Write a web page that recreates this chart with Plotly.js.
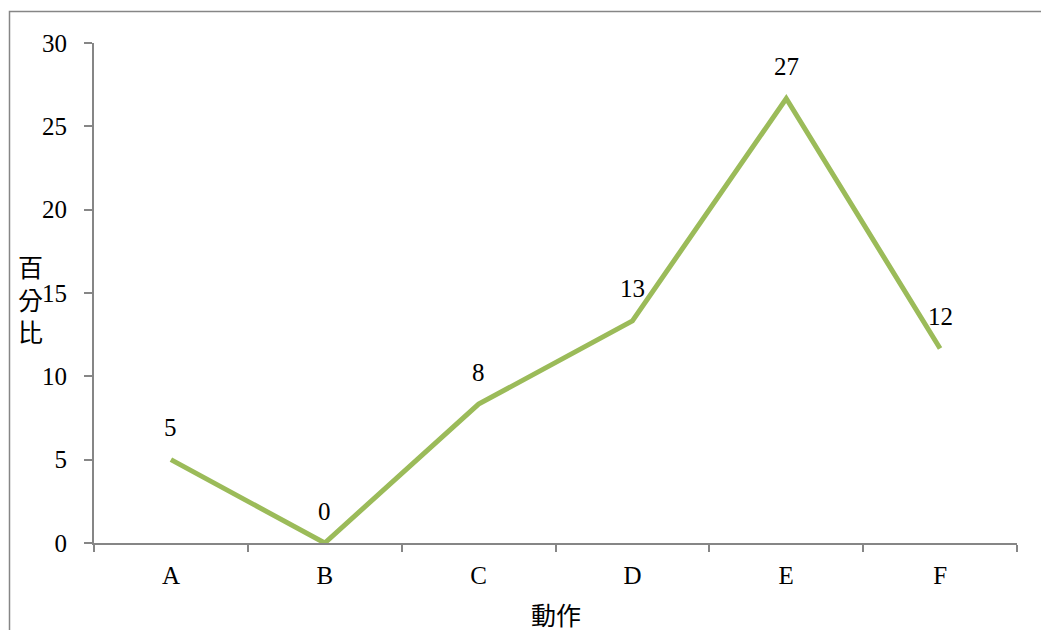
<!DOCTYPE html>
<html>
<head>
<meta charset="utf-8">
<script src="https://cdn.plot.ly/plotly-3.0.1.min.js"></script>
<style>
  html, body { margin: 0; padding: 0; background: #ffffff; }
  #chart { width: 1041px; height: 630px; }
</style>
</head>
<body>
<div id="chart"></div>
<script>
// 動作別の百分比
const categories = ['A', 'B', 'C', 'D', 'E', 'F'];
const percentages = [5, 0, 8.33, 13.33, 26.67, 11.67];
const yTickValues = [0, 5, 10, 15, 20, 25, 30];

const lineColor = '#9BBB59';
const axisColor = '#868686';
const serifFont = 'Liberation Serif, Times New Roman, serif';
const cjkFont = 'Noto Sans CJK TC, Noto Sans CJK SC, sans-serif';

const W = 1041, H = 630;
const margin = { l: 94, r: 24, t: 43, b: 87 };
const plotW = W - margin.l - margin.r;
const plotH = H - margin.t - margin.b;
// pixel -> paper coordinate helpers
const px = x => (x - margin.l) / plotW;
const py = y => (H - margin.b - y) / plotH;

const trace = {
  type: 'scatter',
  mode: 'lines',
  x: categories,
  y: percentages,
  line: { color: lineColor, width: 5 },
  hoverinfo: 'skip',
  cliponaxis: false
};

// value labels above each point, rounded to whole percent
const valueLabels = categories.map((c, i) => ({
  x: c,
  y: percentages[i],
  xref: 'x',
  yref: 'y',
  text: String(Math.round(percentages[i])),
  showarrow: false,
  yanchor: 'middle',
  xanchor: 'center',
  yshift: 32,
  font: { family: serifFont, size: 25, color: '#000000' }
}));

const layout = {
  width: W,
  height: H,
  margin: margin,
  paper_bgcolor: '#ffffff',
  plot_bgcolor: '#ffffff',
  showlegend: false,
  xaxis: {
    type: 'category',
    range: [-0.5, categories.length - 0.5],
    showgrid: false,
    zeroline: false,
    showline: true,
    linecolor: axisColor,
    linewidth: 2,
    ticks: 'outside',
    tickson: 'boundaries',
    ticklen: 7,
    tickwidth: 2,
    tickcolor: axisColor,
    ticklabelstandoff: 9,
    tickfont: { family: serifFont, size: 25, color: '#000000' },
    fixedrange: true
  },
  yaxis: {
    range: [0, 30],
    tickvals: yTickValues,
    ticktext: yTickValues.map(String),
    showgrid: false,
    zeroline: false,
    showline: true,
    linecolor: axisColor,
    linewidth: 2,
    ticks: 'outside',
    ticklen: 8,
    tickwidth: 2,
    tickcolor: axisColor,
    ticklabelstandoff: 12,
    tickfont: { family: serifFont, size: 25, color: '#000000' },
    fixedrange: true
  },
  annotations: valueLabels.concat([
    {
      xref: 'paper', yref: 'paper',
      x: px(30), y: py(298),
      xanchor: 'center', yanchor: 'middle',
      text: '百<br>分<br>比',
      showarrow: false,
      font: { family: cjkFont, size: 25, color: '#000000' }
    },
    {
      xref: 'paper', yref: 'paper',
      x: 0.5, y: py(614),
      xanchor: 'center', yanchor: 'middle',
      text: '動作',
      showarrow: false,
      font: { family: cjkFont, size: 25, color: '#000000' }
    }
  ]),
  shapes: [
    {
      type: 'rect',
      xref: 'paper', yref: 'paper',
      x0: px(9.5), x1: px(1060),
      y0: py(660), y1: py(11.5),
      line: { color: axisColor, width: 1.5 },
      fillcolor: 'rgba(0,0,0,0)',
      layer: 'below'
    }
  ]
};

Plotly.newPlot('chart', [trace], layout, { displayModeBar: false, staticPlot: true });
</script>
</body>
</html>
